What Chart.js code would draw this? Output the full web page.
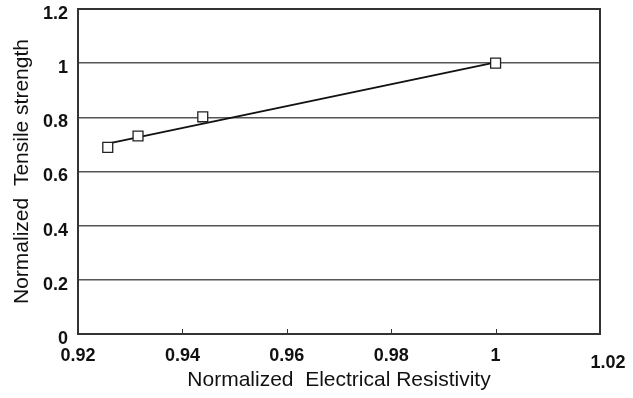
<!DOCTYPE html>
<html>
<head>
<meta charset="utf-8">
<script src="https://cdn.jsdelivr.net/npm/chart.js@4.4.1/dist/chart.umd.min.js"></script>
<style>
    html, body { margin: 0; padding: 0; background: #fff; }
    #box { width: 633px; height: 398px; }
</style>
</head>
<body>
<div id="box"><canvas id="myChart"></canvas></div>
<script>
const resistivity = [0.9257, 0.9315, 0.9439, 1.0];
const strength = [0.689, 0.731, 0.802, 1.0];
const fitX = [0.9257, 1.0];
const fitY = [0.703, 1.003];
const xTicks = [0.92, 0.94, 0.96, 0.98, 1, 1.02];
const yTicks = [0, 0.2, 0.4, 0.6, 0.8, 1, 1.2];
const xTitle = 'Normalized  Electrical Resistivity';
const yTitle = 'Normalized  Tensile strength';

const tickFont = { family: 'Liberation Sans', size: 18, weight: 'bold' };
const titleFont = { family: 'Liberation Sans', size: 21 };
const lastX = xTicks[xTicks.length - 1];

// frame round the plot, small inner ticks on x, and the shifted last x label
const framePlugin = {
    id: 'frame',
    afterDraw: (chart) => {
        const { ctx, chartArea: a, scales: { x } } = chart;
        ctx.save();
        ctx.strokeStyle = '#333';
        ctx.lineWidth = 2;
        ctx.strokeRect(a.left, a.top, a.right - a.left, a.bottom - a.top);
        ctx.lineWidth = 1;
        xTicks.slice(1, -1).forEach(v => {
            const px = Math.round(x.getPixelForValue(v)) + 0.5;
            ctx.beginPath();
            ctx.moveTo(px, a.bottom);
            ctx.lineTo(px, a.bottom - 5);
            ctx.stroke();
        });
        ctx.fillStyle = '#111';
        ctx.font = 'bold 18px "Liberation Sans"';
        ctx.textAlign = 'center';
        ctx.textBaseline = 'middle';
        ctx.fillText(String(lastX), x.getPixelForValue(lastX) + 8, a.bottom + 29);
        ctx.restore();
    }
};

const myChart = new Chart(document.getElementById('myChart'), {
    type: 'scatter',
    data: {
        datasets: [{
            label: 'data',
            data: resistivity.map((v, i) => ({ x: v, y: strength[i] })),
            pointStyle: 'rect',
            pointRadius: 7,
            pointHoverRadius: 7,
            pointBackgroundColor: '#fff',
            pointBorderColor: '#222',
            pointBorderWidth: 1.3,
            showLine: false
        }, {
            label: 'fit',
            data: fitX.map((v, i) => ({ x: v, y: fitY[i] })),
            showLine: true,
            borderColor: '#111',
            borderWidth: 2,
            pointRadius: 0
        }]
    },
    options: {
        responsive: true,
        maintainAspectRatio: false,
        animation: false,
        layout: { padding: { left: 0, top: 9, right: 33, bottom: 0 } },
        plugins: {
            legend: { display: false },
            tooltip: { enabled: false }
        },
        scales: {
            x: {
                type: 'linear',
                min: xTicks[0],
                max: lastX,
                afterBuildTicks: (s) => { s.ticks = xTicks.map(v => ({ value: v })); },
                afterFit: (s) => { s.height = 64; s.paddingLeft = 0; s.paddingRight = 0; },
                grid: { display: false, drawTicks: false },
                border: { display: true, color: '#333', width: 2 },
                ticks: {
                    padding: 11,
                    color: '#111',
                    font: tickFont,
                    maxRotation: 0,
                    autoSkip: false,
                    callback: (v) => (Math.abs(v - lastX) < 1e-6 ? '' : String(v))
                },
                title: {
                    display: true,
                    text: xTitle,
                    color: '#111',
                    font: titleFont,
                    padding: { top: 0, bottom: 5 }
                }
            },
            y: {
                min: yTicks[0],
                max: yTicks[yTicks.length - 1],
                afterBuildTicks: (s) => { s.ticks = yTicks.map(v => ({ value: v })); },
                afterFit: (s) => { s.width = 78; s.paddingTop = 0; s.paddingBottom = 0; },
                grid: { color: '#555', lineWidth: 1.5, drawTicks: false },
                border: { display: true, color: '#333', width: 2 },
                ticks: {
                    padding: 10,
                    labelOffset: 5,
                    color: '#111',
                    font: tickFont,
                    callback: (v) => String(v)
                },
                title: {
                    display: true,
                    text: yTitle,
                    color: '#111',
                    font: titleFont,
                    padding: { top: 10, bottom: 0 }
                }
            }
        }
    },
    plugins: [framePlugin]
});
</script>
</body>
</html>
